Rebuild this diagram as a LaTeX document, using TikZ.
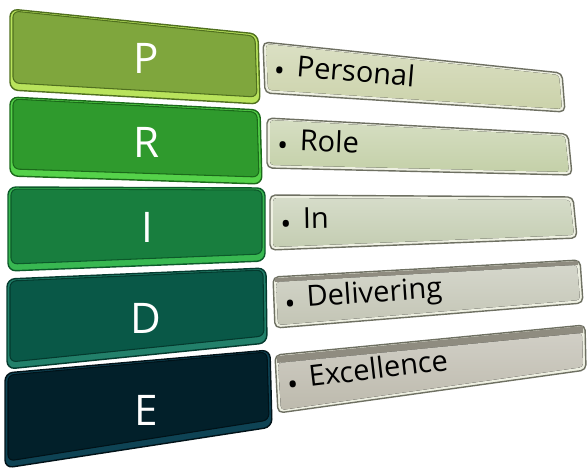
\documentclass[tikz,border=0pt]{standalone}
\usepackage{fontspec}
\setmainfont{Open Sans}
\usepackage{tikz}
\usetikzlibrary{calc}

\definecolor{Pface}{HTML}{7FA63D}
\definecolor{Prim}{HTML}{B9E35C}
\definecolor{Pdark}{HTML}{50701F}
\definecolor{Rface}{HTML}{2F9A2D}
\definecolor{Rrim}{HTML}{55D24A}
\definecolor{Rdark}{HTML}{1B6A1A}
\definecolor{Iface}{HTML}{187E3E}
\definecolor{Irim}{HTML}{38B851}
\definecolor{Idark}{HTML}{0C5A2A}
\definecolor{Dface}{HTML}{095847}
\definecolor{Drim}{HTML}{22806A}
\definecolor{Ddark}{HTML}{043A2E}
\definecolor{Eface}{HTML}{02202A}
\definecolor{Erim}{HTML}{0E4354}
\definecolor{Edark}{HTML}{011218}
\definecolor{BarP}{HTML}{CBD2AA}
\definecolor{BarR}{HTML}{C4D0A8}
\definecolor{BarI}{HTML}{C4CDB2}
\definecolor{BarD}{HTML}{C3C5B5}
\definecolor{BarE}{HTML}{BDBAAD}
\definecolor{BarEdge}{HTML}{6E7062}
\definecolor{BarLight}{HTML}{EEF0E2}
\definecolor{BarTop}{HTML}{8F8C80}

\begin{document}
\begin{tikzpicture}[x=0.02cm, y=-0.02cm,
  letter/.style={text=white, font=\fontsize{24}{28}\selectfont, inner sep=0},
  item/.style={sloped, anchor=west, inner sep=0, text height=1.4ex, text depth=0pt,
    font=\fontsize{16.5}{20}\selectfont},
  boxrim/.style={rounded corners=4.5pt, thick},
  boxface/.style={rounded corners=3.5pt, semithick},
  barrim/.style={rounded corners=3pt, draw=BarEdge, fill=BarLight, thick},
  barface/.style={rounded corners=2pt}]

  \useasboundingbox (0,0) rectangle (587,470);

  % letter boxes
  \coordinate (P1) at (10,9);
  \coordinate (P2) at (258,34);
  \coordinate (P3) at (260,104);
  \coordinate (P4) at (10,90);
  \coordinate (R1) at (10,97);
  \coordinate (R2) at (260,110);
  \coordinate (R3) at (262,184);
  \coordinate (R4) at (10,176);
  \coordinate (I1) at (8,187);
  \coordinate (I2) at (265,188);
  \coordinate (I3) at (265,261);
  \coordinate (I4) at (8,271);
  \coordinate (D1) at (7,279);
  \coordinate (D2) at (266,268);
  \coordinate (D3) at (267,343);
  \coordinate (D4) at (7,369);
  \coordinate (E1) at (5,373);
  \coordinate (E2) at (270,350);
  \coordinate (E3) at (272,427);
  \coordinate (E4) at (5,468);

  % bars
  \coordinate (P5) at (263,42);
  \coordinate (P6) at (562,73);
  \coordinate (P7) at (565,112);
  \coordinate (P8) at (265,93);
  \coordinate (R5) at (267,118);
  \coordinate (R6) at (568,134);
  \coordinate (R7) at (572,175);
  \coordinate (R8) at (267,168);
  \coordinate (I5) at (270,195);
  \coordinate (I6) at (573,197);
  \coordinate (I7) at (577,238);
  \coordinate (I8) at (270,250);
  \coordinate (D5) at (273,277);
  \coordinate (D6) at (580,260);
  \coordinate (D7) at (583,303);
  \coordinate (D8) at (275,328);
  \coordinate (E5) at (275,355);
  \coordinate (E6) at (585,325);
  \coordinate (E7) at (586,370);
  \coordinate (E8) at (278,413);

  \filldraw[barrim] (P5) -- (P6) -- (P7) -- (P8) -- cycle;
  \fill[barface, top color=BarP!70!white, bottom color=BarP] ($(P5)+(3,2)$) -- ($(P6)+(-3,2)$) -- ($(P7)+(-3,-3)$) -- ($(P8)+(3,-3)$) -- cycle;
  \filldraw[barrim] (R5) -- (R6) -- (R7) -- (R8) -- cycle;
  \fill[barface, top color=BarR!70!white, bottom color=BarR] ($(R5)+(3,2)$) -- ($(R6)+(-3,2)$) -- ($(R7)+(-3,-3)$) -- ($(R8)+(3,-3)$) -- cycle;
  \filldraw[barrim] (I5) -- (I6) -- (I7) -- (I8) -- cycle;
  \fill[barface, top color=BarI!70!white, bottom color=BarI] ($(I5)+(3,3)$) -- ($(I6)+(-3,3)$) -- ($(I7)+(-3,-3)$) -- ($(I8)+(3,-3)$) -- cycle;
  \filldraw[barrim] (D5) -- (D6) -- (D7) -- (D8) -- cycle;
  \fill[BarTop] ($(D5)+(2,1)$) -- ($(D6)+(-2,1)$) -- ($(D6)+(-2,5)$) -- ($(D5)+(2,5)$) -- cycle;
  \fill[barface, top color=BarD!70!white, bottom color=BarD] ($(D5)+(3,5)$) -- ($(D6)+(-3,5)$) -- ($(D7)+(-3,-3)$) -- ($(D8)+(3,-3)$) -- cycle;
  \filldraw[barrim] (E5) -- (E6) -- (E7) -- (E8) -- cycle;
  \fill[BarTop] ($(E5)+(2,1)$) -- ($(E6)+(-2,1)$) -- ($(E6)+(-2,8)$) -- ($(E5)+(2,8)$) -- cycle;
  \fill[barface, top color=BarE!70!white, bottom color=BarE] ($(E5)+(3,8)$) -- ($(E6)+(-3,8)$) -- ($(E7)+(-3,-3)$) -- ($(E8)+(3,-3)$) -- cycle;

  \filldraw[boxrim, draw=Pdark, fill=Prim] (P1) -- (P2) -- (P3) -- (P4) -- cycle;
  \filldraw[boxface, draw=Pdark, fill=Pface] ($(P1)+(3,2)$) -- ($(P2)+(-3,2)$) -- ($(P3)+(-3,-7)$) -- ($(P4)+(3,-7)$) -- cycle;
  \filldraw[boxrim, draw=Rdark, fill=Rrim] (R1) -- (R2) -- (R3) -- (R4) -- cycle;
  \filldraw[boxface, draw=Rdark, fill=Rface] ($(R1)+(3,2)$) -- ($(R2)+(-3,2)$) -- ($(R3)+(-3,-7)$) -- ($(R4)+(3,-7)$) -- cycle;
  \filldraw[boxrim, draw=Idark, fill=Irim] (I1) -- (I2) -- (I3) -- (I4) -- cycle;
  \filldraw[boxface, draw=Idark, fill=Iface] ($(I1)+(3,2)$) -- ($(I2)+(-3,2)$) -- ($(I3)+(-3,-7)$) -- ($(I4)+(3,-7)$) -- cycle;
  \filldraw[boxrim, draw=Ddark, fill=Drim] (D1) -- (D2) -- (D3) -- (D4) -- cycle;
  \filldraw[boxface, draw=Ddark, fill=Dface] ($(D1)+(3,2)$) -- ($(D2)+(-3,2)$) -- ($(D3)+(-3,-7)$) -- ($(D4)+(3,-7)$) -- cycle;
  \filldraw[boxrim, draw=Edark, fill=Erim] (E1) -- (E2) -- (E3) -- (E4) -- cycle;
  \filldraw[boxface, draw=Edark, fill=Eface] ($(E1)+(3,2)$) -- ($(E2)+(-3,2)$) -- ($(E3)+(-3,-7)$) -- ($(E4)+(3,-7)$) -- cycle;

  \node[letter] (p) at (146,58) {P};
  \node[letter] (r) at (147,142) {R};
  \node[letter] (i) at (147,227) {I};
  \node[letter] (d) at (146,318) {D};
  \node[letter] (e) at (146,410) {E};

  \path ($(P5)!0.5!(P8)$) -- ($(P6)!0.5!(P7)$) node[item, pos=0.033] (personal) {\raisebox{-0.2em}{•}\hspace{0.4em}Personal};
  \path ($(R5)!0.5!(R8)$) -- ($(R6)!0.5!(R7)$) node[item, pos=0.033] (role) {\raisebox{-0.2em}{•}\hspace{0.4em}Role};
  \path ($(I5)!0.5!(I8)$) -- ($(I6)!0.5!(I7)$) node[item, pos=0.033] (in) {\raisebox{-0.2em}{•}\hspace{0.4em}In};
  \path ($(D5)!0.5!(D8)$) -- ($(D6)!0.5!(D7)$) node[item, pos=0.033] (delivering) {\raisebox{-0.2em}{•}\hspace{0.4em}Delivering};
  \path ($(E5)!0.5!(E8)$) -- ($(E6)!0.5!(E7)$) node[item, pos=0.033] (excellence) {\raisebox{-0.2em}{•}\hspace{0.4em}Excellence};

\end{tikzpicture}
\end{document}
